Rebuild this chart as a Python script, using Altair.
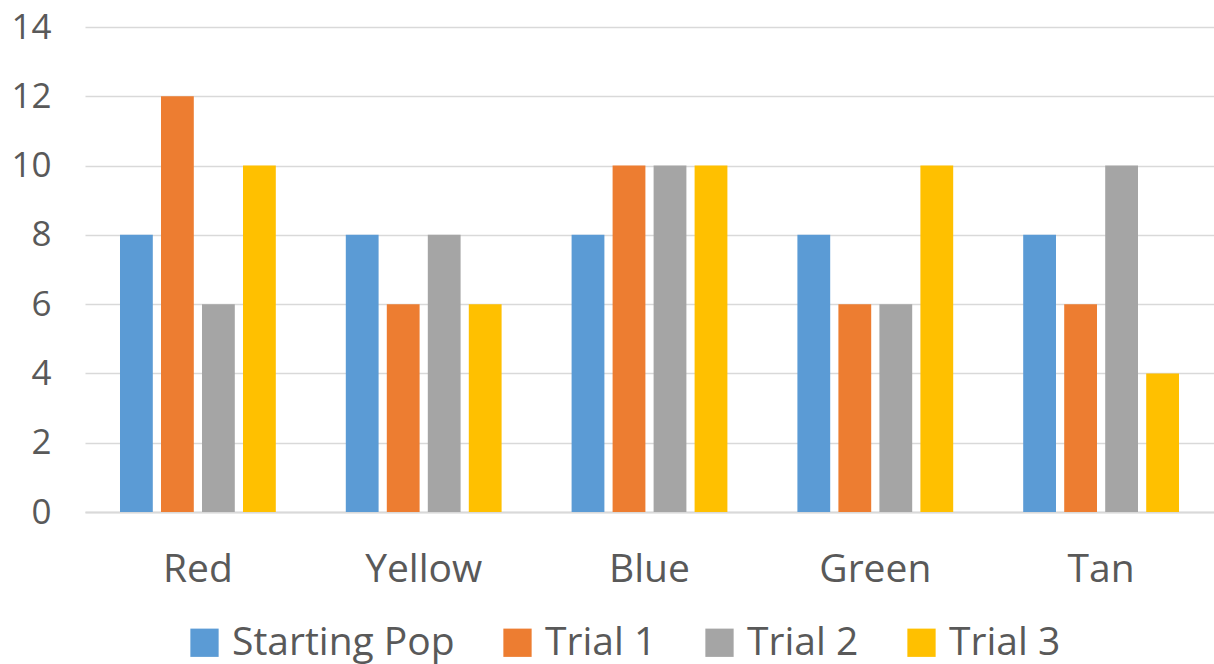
import altair as alt
import pandas as pd

categories = ["Red", "Yellow", "Blue", "Green", "Tan"]
series = ["Starting Pop", "Trial 1", "Trial 2", "Trial 3"]
starting_pop = [8, 8, 8, 8, 8]
trial_1 = [12, 6, 10, 6, 6]
trial_2 = [6, 8, 10, 6, 10]
trial_3 = [10, 6, 10, 10, 4]
colors = ["#5B9BD5", "#ED7D31", "#A5A5A5", "#FFC000"]

rows = []
for s, vals in zip(series, [starting_pop, trial_1, trial_2, trial_3]):
    for c, v in zip(categories, vals):
        rows.append({"Category": c, "Series": s, "Value": v})
df = pd.DataFrame(rows)

FONT = "Open Sans"
TXT = "#595959"

chart = alt.Chart(df).mark_bar().encode(
    x=alt.X("Category:N", sort=categories,
            scale=alt.Scale(paddingInner=0.31, paddingOuter=0.155),
            axis=alt.Axis(title=None, labelAngle=0, labelFontSize=39, labelColor=TXT,
                          labelFont=FONT, labelPadding=38, ticks=False,
                          domainColor="#D9D9D9", domainWidth=2)),
    xOffset=alt.XOffset("Series:N", sort=series,
                        scale=alt.Scale(paddingInner=0.2, paddingOuter=0)),
    y=alt.Y("Value:Q", scale=alt.Scale(domain=[0, 14]),
            axis=alt.Axis(title=None, values=[0, 2, 4, 6, 8, 10, 12, 14], labelFontSize=35,
                          labelColor=TXT, labelFont=FONT, labelPadding=34, ticks=False,
                          domain=False, gridColor="#D9D9D9", gridWidth=1.5)),
    color=alt.Color("Series:N", sort=series,
                    scale=alt.Scale(domain=series, range=colors),
                    legend=alt.Legend(title=None, orient="none", legendX=100, legendY=596,
                                      direction="horizontal", symbolType="square",
                                      symbolSize=800, symbolStrokeWidth=0,
                                      labelFontSize=39, labelColor=TXT, labelFont=FONT,
                                      labelLimit=1000,
                                      labelOffset=8, columnPadding=43, symbolOpacity=1)),
).properties(
    width=1129, height=485,
    padding={"left": 85, "top": 27, "right": 0, "bottom": 152},
    autosize=alt.AutoSizeParams(type="none"),
).configure_view(stroke=None).configure_axis(labelFont=FONT).configure_legend(labelFont=FONT)

chart.save("out.html", embed_options={"renderer": "svg", "actions": False})
